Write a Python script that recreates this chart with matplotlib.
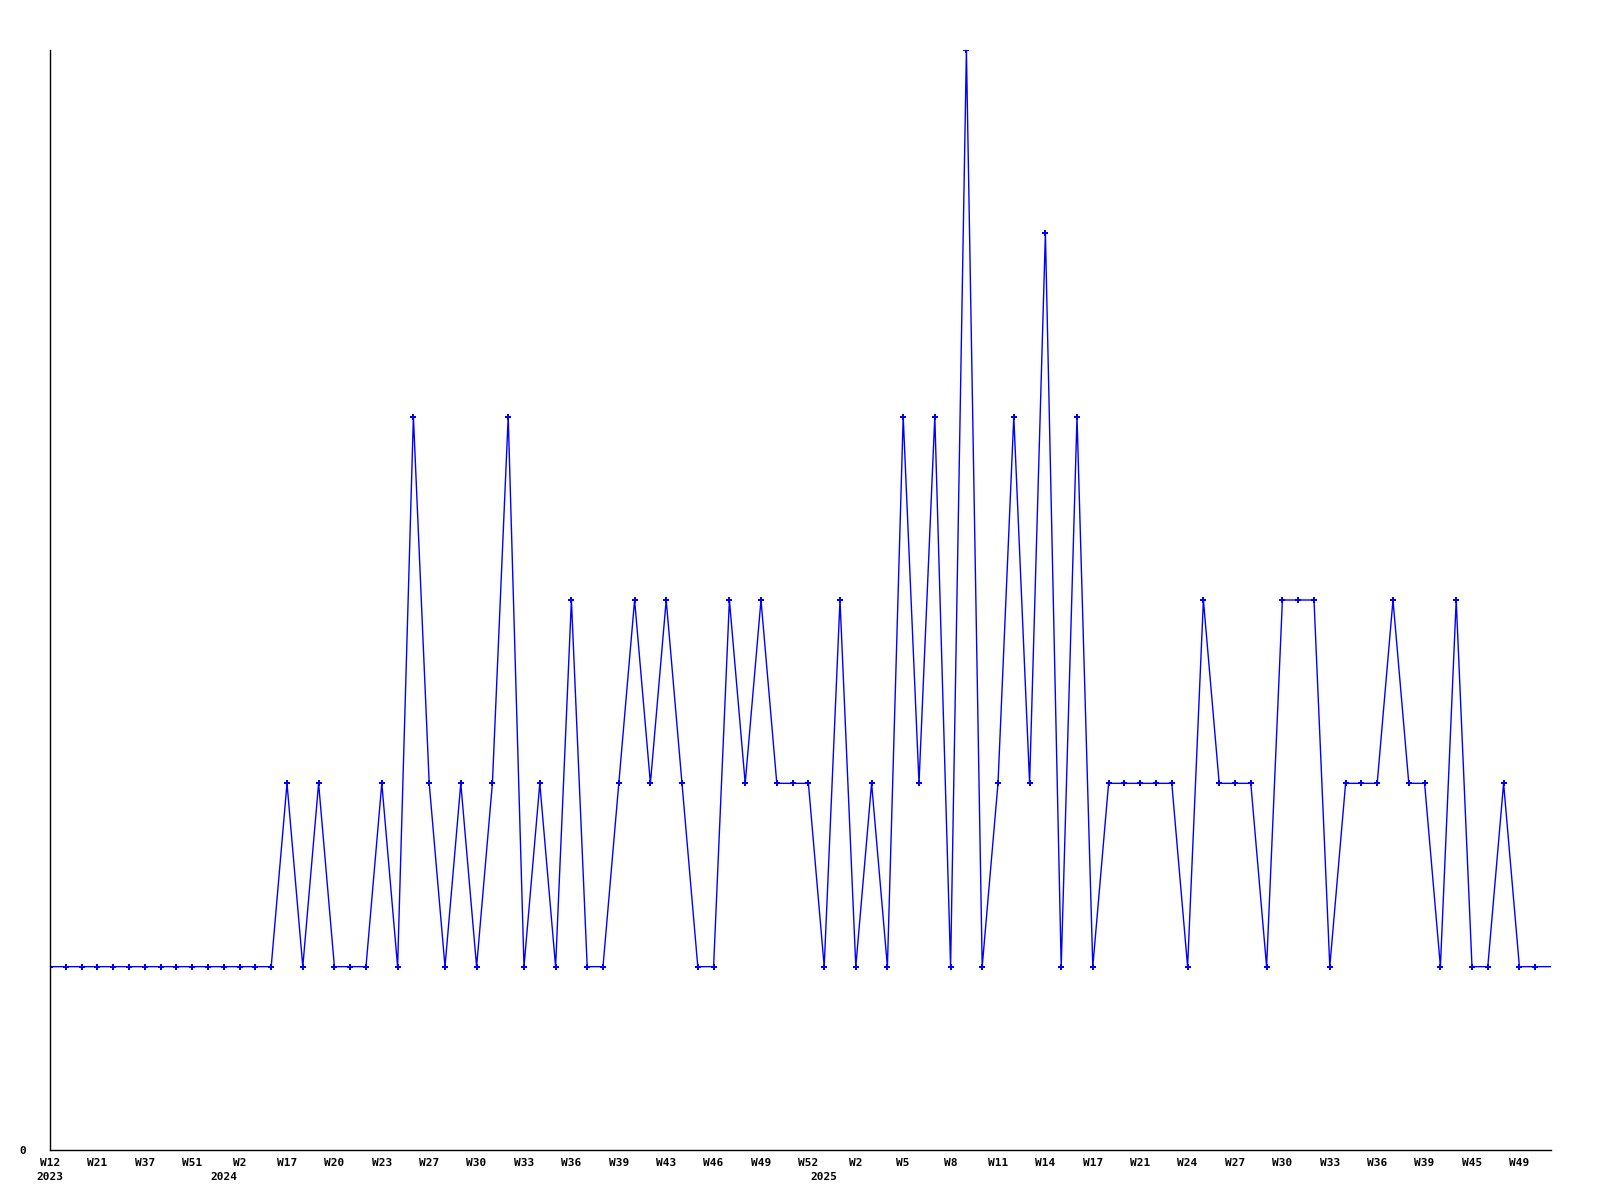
import matplotlib
matplotlib.use("Agg")
import matplotlib.pyplot as plt

values = [1, 1, 1, 1, 1, 1, 1, 1, 1, 1, 1, 1, 1, 1, 1,
          2, 1, 2, 1, 1, 1, 2, 1, 4, 2, 1, 2, 1, 2, 4,
          1, 2, 1, 3, 1, 1, 2, 3, 2, 3, 2, 1, 1, 3, 2,
          3, 2, 2, 2, 1, 3, 1, 2, 1, 4, 2, 4, 1, 6, 1,
          2, 4, 2, 5, 1, 4, 1, 2, 2, 2, 2, 2, 1, 3, 2,
          2, 2, 1, 3, 3, 3, 1, 2, 2, 2, 3, 2, 2, 1, 3,
          1, 1, 2, 1, 1, 1]
week_labels = ['W12', 'W21', 'W37', 'W51', 'W2', 'W17', 'W20', 'W23', 'W27',
               'W30', 'W33', 'W36', 'W39', 'W43', 'W46', 'W49', 'W52', 'W2',
               'W5', 'W8', 'W11', 'W14', 'W17', 'W21', 'W24', 'W27', 'W30',
               'W33', 'W36', 'W39', 'W45', 'W49']
year_labels = ['2023', '2024', '2025']
year_index = [0, 11, 49]

fig = plt.figure(figsize=(16, 12), dpi=100)
ax = fig.add_axes([50 / 1600, 50 / 1200, (1551 - 50) / 1600, 1100 / 1200])

x = list(range(len(values)))
ax.plot(x, values, color='#0000ff', linewidth=1.0, marker='P', markersize=5,
        markeredgewidth=0, markevery=list(range(len(values) - 1)))

ax.set_xlim(0, len(values) - 1)
ax.set_ylim(0, max(values))
for s in ['top', 'right']:
    ax.spines[s].set_visible(False)
for s in ['left', 'bottom']:
    ax.spines[s].set_linewidth(1.0)
    ax.spines[s].set_color('black')

font = dict(family='DejaVu Sans Mono', weight='bold', size=8)
ax.set_xticks(list(range(0, 3 * len(week_labels), 3)))
ax.set_xticklabels(week_labels, **font)
ax.set_yticks([0])
ax.set_yticklabels(['0'], **font)
ax.tick_params(axis='both', length=0)
ax.tick_params(axis='x', pad=6)
ax.tick_params(axis='y', pad=17)

for lbl, idx in zip(year_labels, year_index):
    ax.annotate(lbl, xy=(idx, 0), xycoords='data', xytext=(0, -19.5),
                textcoords='offset points', ha='center', va='center', **font)

fig.savefig('out.png', dpi=100)
